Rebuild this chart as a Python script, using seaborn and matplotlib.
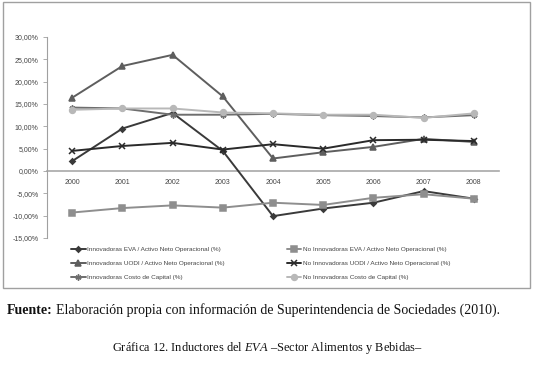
import matplotlib
matplotlib.use("Agg")
import matplotlib.pyplot as plt
import matplotlib.patches as mpatches
import matplotlib.ticker as mticker
import seaborn as sns
import pandas as pd

years = ["2000", "2001", "2002", "2003", "2004", "2005", "2006", "2007", "2008"]

innov_eva = [2.2, 9.5, 13.0, 4.5, -10.1, -8.4, -7.1, -4.5, -6.2]
no_innov_eva = [-9.3, -8.3, -7.7, -8.2, -7.1, -7.6, -6.0, -5.2, -6.2]
innov_uodi = [16.4, 23.5, 26.0, 16.7, 2.8, 4.2, 5.4, 7.2, 6.5]
no_innov_uodi = [4.5, 5.6, 6.3, 4.8, 6.0, 5.0, 6.9, 7.0, 6.7]
innov_costo = [14.2, 14.0, 12.6, 12.6, 12.8, 12.5, 12.3, 12.0, 12.5]
no_innov_costo = [13.7, 14.0, 14.0, 13.1, 12.9, 12.6, 12.6, 11.9, 12.9]

series = {
    "Innovadoras EVA / Activo Neto Operacional (%)": innov_eva,
    "No Innovadoras EVA / Activo Neto Operacional (%)": no_innov_eva,
    "Innovadoras UODI / Activo Neto Operacional (%)": innov_uodi,
    "No Innovadoras UODI / Activo Neto Operacional (%)": no_innov_uodi,
    "Innovadoras Costo de Capital (%)": innov_costo,
    "No Innovadoras Costo de Capital (%)": no_innov_costo,
}
names = list(series.keys())

colors = dict(zip(names, ["#3a3a3a", "#8e8e8e", "#5e5e5e", "#2a2a2a", "#6e6e6e", "#b8b8b8"]))
markers = dict(zip(names, ["D", "s", "^", "x", (6, 2, 0), "o"]))
msizes = dict(zip(names, [2.8, 4.0, 3.8, 4.0, 4.3, 4.2]))

sns.set_style("white")
plt.rcParams["mathtext.fontset"] = "custom"
plt.rcParams["mathtext.it"] = "Liberation Serif:italic"
plt.rcParams["mathtext.rm"] = "Liberation Serif"

fig = plt.figure(figsize=(5.36, 3.70), dpi=100)
ax = fig.add_axes([47 / 536, 1 - 238 / 370, 452 / 536, 201 / 370])

for n in names:
    d = pd.DataFrame({"year": years, "valor": series[n]})
    sns.lineplot(data=d, x="year", y="valor", color=colors[n], marker=markers[n],
                 markersize=msizes[n], markeredgewidth=1.1, markeredgecolor=colors[n],
                 markerfacecolor=colors[n], linewidth=1.4, ax=ax, sort=False)

ax.set_xlim(-0.5, 8.5)
ax.set_ylim(-15, 30)
ax.yaxis.set_major_locator(mticker.MultipleLocator(5))
ax.yaxis.set_major_formatter(mticker.FuncFormatter(lambda v, p: f"{v:.2f}%".replace(".", ",")))
ax.set_xlabel("")
ax.set_ylabel("")

for s in ["top", "right"]:
    ax.spines[s].set_visible(False)
ax.spines["left"].set_color("#a0a0a0")
ax.spines["left"].set_linewidth(0.8)
ax.spines["bottom"].set_position(("data", 0))
ax.spines["bottom"].set_color("#a8a8a8")
ax.spines["bottom"].set_linewidth(1.2)
ax.spines["bottom"].set_zorder(0)
ax.tick_params(axis="y", length=3, width=0.6, color="#a0a0a0", labelsize=5, pad=3,
               labelcolor="#444444", direction="out", left=True)
ax.tick_params(axis="x", length=0, labelsize=5, pad=6, labelcolor="#444444")
for t in ax.get_xticklabels() + ax.get_yticklabels():
    t.set_family("Liberation Sans")

# outer chart frame
fig.patches.append(mpatches.Rectangle((3 / 536, 1 - 288 / 370), 527 / 536, 286 / 370,
                                      transform=fig.transFigure, fill=False,
                                      edgecolor="#a0a0a0", linewidth=1.0))

handles = []
for n in names:
    handles.append(plt.Line2D([], [], color=colors[n], marker=markers[n], linewidth=1.4,
                              markersize=msizes[n], markeredgewidth=1.1,
                              markerfacecolor=colors[n], markeredgecolor=colors[n]))
order = [0, 2, 4, 1, 3, 5]
leg = fig.legend([handles[i] for i in order], [names[i] for i in order],
                 loc="upper left", bbox_to_anchor=(71 / 536, 1 - 247 / 370),
                 ncol=2, frameon=False, prop={"family": "Liberation Sans", "size": 4.6},
                 handlelength=2.3, handletextpad=0.2, labelspacing=1.3,
                 columnspacing=9.7, borderaxespad=0, borderpad=0)
for t in leg.get_texts():
    t.set_color("#444444")

# caption texts below the chart
renderer = fig.canvas.get_renderer()
t1 = fig.text(7 / 536, 1 - 314 / 370, "Fuente:", family="Liberation Serif",
              weight="bold", size=10.0, va="baseline", ha="left", color="#111111")
bb = t1.get_window_extent(renderer)
fig.text(bb.x1 / fig.bbox.width + 3 / 536, 1 - 314 / 370,
         "Elaboración propia con información de Superintendencia de Sociedades (2010).",
         family="Liberation Serif", size=10.0, va="baseline", ha="left", color="#111111")

fig.text(0.5, 1 - 351 / 370,
         r"Gráfica 12. Inductores del $\mathit{EVA}$ –Sector Alimentos y Bebidas–",
         family="Liberation Serif", size=8.9, va="baseline", ha="center", color="#111111")

fig.savefig("out.png", dpi=100, facecolor="white")
